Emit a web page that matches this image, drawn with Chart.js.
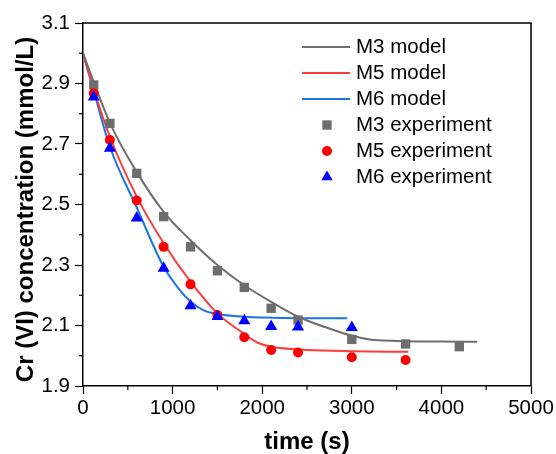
<!DOCTYPE html>
<html>
<head>
<meta charset="utf-8">
<script src="https://cdn.jsdelivr.net/npm/chart.js@4.4.1/dist/chart.umd.min.js"></script>
<style>
  html, body { margin: 0; padding: 0; background: #fff; }
  #wrap { width: 556px; height: 454px; }
</style>
</head>
<body>
<div id="wrap"><canvas id="grafico" width="556" height="454"></canvas></div>
<script>
// valores (tempo em s, concentração em mmol/L)
const tempoExp = [120, 300, 600, 900, 1200, 1500, 1800, 2100, 2400, 3000, 3600, 4200];
const m3Exp = [2.895, 2.768, 2.603, 2.460, 2.360, 2.281, 2.226, 2.157, 2.118, 2.054, 2.039, 2.030];
const m5Exp = [2.868, 2.713, 2.513, 2.360, 2.236, 2.135, 2.061, 2.019, 2.011, 1.995, 1.986];
const m6Exp = [2.855, 2.686, 2.455, 2.289, 2.165, 2.130, 2.116, 2.097, 2.095, 2.093];

const m3ModelT = [0, 300, 600, 900, 1200, 1500, 1800, 2100, 2400, 2700, 3000, 3200, 3500, 4000, 4400];
const m3ModelC = [3.000, 2.770, 2.607, 2.476, 2.382, 2.300, 2.233, 2.178, 2.129, 2.095, 2.066, 2.054, 2.049, 2.047, 2.046];

const m5ModelT = [0, 120, 300, 600, 900, 1200, 1500, 1800, 1950, 2100, 2400, 2700, 3000, 3630];
const m5ModelC = [3.000, 2.880, 2.724, 2.526, 2.372, 2.245, 2.140, 2.072, 2.043, 2.030, 2.021, 2.017, 2.015, 2.013];

const m6ModelT = [0, 120, 300, 600, 900, 1080, 1200, 1340, 1500, 1800, 2100, 2650, 2950];
const m6ModelC = [3.000, 2.875, 2.691, 2.490, 2.294, 2.217, 2.179, 2.151, 2.138, 2.129, 2.126, 2.124, 2.124];

const xMarcas = [0, 1000, 2000, 3000, 4000, 5000];
const yMarcas = [1.9, 2.1, 2.3, 2.5, 2.7, 2.9, 3.1];

const fonte = 'Arial, "Liberation Sans", sans-serif';

function pontos(xs, ys) {
    return ys.map((y, i) => ({ x: xs[i], y: y }));
}

function ehMaiorX(v) { return xMarcas.some(m => Math.abs(m - v) < 1e-6); }
function ehMaiorY(v) { return yMarcas.some(m => Math.abs(m - v) < 1e-6); }

// legenda desenhada à mão dentro da área do gráfico
const legendaPlugin = {
    id: 'legendaInterna',
    afterDraw(chart) {
        const ctx = chart.ctx;
        const itens = [
            { texto: 'M3 model', ds: 0 },
            { texto: 'M5 model', ds: 1 },
            { texto: 'M6 model', ds: 2 },
            { texto: 'M3 experiment', ds: 3 },
            { texto: 'M5 experiment', ds: 4 },
            { texto: 'M6 experiment', ds: 5 }
        ];
        ctx.save();
        ctx.font = '20.5px ' + fonte;
        ctx.textBaseline = 'middle';
        ctx.fillStyle = '#000';
        itens.forEach((item, i) => {
            const y = 47 + i * 26;
            const ds = chart.data.datasets[item.ds];
            if (item.ds < 3) {
                ctx.strokeStyle = ds.borderColor;
                ctx.lineWidth = 2;
                ctx.beginPath();
                ctx.moveTo(302, y);
                ctx.lineTo(350, y);
                ctx.stroke();
            } else {
                ctx.fillStyle = ds.backgroundColor;
                ctx.strokeStyle = ds.borderColor;
                Chart.helpers.drawPoint(ctx, {
                    pointStyle: ds.pointStyle,
                    radius: ds.pointStyle === 'circle' ? 5 : 6.6,
                    borderWidth: 0
                }, 327, y);
                ctx.fillStyle = '#000';
            }
            ctx.fillText(item.texto, 356, y);
        });
        ctx.restore();
    }
};

// moldura, marcas menores dos eixos e título do eixo y
const molduraPlugin = {
    id: 'moldura',
    afterDraw(chart) {
        const ctx = chart.ctx;
        const a = chart.chartArea;
        const xs = chart.scales.x;
        const ys = chart.scales.y;
        ctx.save();
        ctx.strokeStyle = '#000';
        ctx.lineWidth = 1.5;
        ctx.beginPath();
        ctx.moveTo(a.left, a.top);
        ctx.lineTo(a.right, a.top);
        ctx.lineTo(a.right, a.bottom);
        ctx.stroke();
        ctx.lineWidth = 1.2;
        xs.ticks.forEach(t => {
            if (!ehMaiorX(t.value)) {
                const px = xs.getPixelForValue(t.value);
                ctx.beginPath();
                ctx.moveTo(px, a.bottom);
                ctx.lineTo(px, a.bottom + 4);
                ctx.stroke();
            }
        });
        ys.ticks.forEach(t => {
            if (!ehMaiorY(t.value)) {
                const py = ys.getPixelForValue(t.value);
                ctx.beginPath();
                ctx.moveTo(a.left - 4, py);
                ctx.lineTo(a.left, py);
                ctx.stroke();
            }
        });
        // título do eixo y (um pouco abaixo do centro, como no original)
        ctx.translate(26.7, (a.top + a.bottom) / 2 + 5);
        ctx.rotate(-Math.PI / 2);
        ctx.font = 'bold 24px ' + fonte;
        ctx.fillStyle = '#000';
        ctx.textAlign = 'center';
        ctx.textBaseline = 'middle';
        ctx.fillText('Cr (VI) concentration (mmol/L)', 0, 0);
        ctx.restore();
    }
};

function criarGrafico() {
    const ctx = document.getElementById('grafico').getContext('2d');
    new Chart(ctx, {
        type: 'line',
        data: {
            datasets: [
                { label: 'M3 model', data: pontos(m3ModelT, m3ModelC), borderColor: '#6e6e6e', borderWidth: 2, pointRadius: 0, cubicInterpolationMode: 'monotone', order: 10 },
                { label: 'M5 model', data: pontos(m5ModelT, m5ModelC), borderColor: '#ff3b3b', borderWidth: 2, pointRadius: 0, cubicInterpolationMode: 'monotone', order: 10 },
                { label: 'M6 model', data: pontos(m6ModelT, m6ModelC), borderColor: '#1b75e2', borderWidth: 2, pointRadius: 0, cubicInterpolationMode: 'monotone', order: 10 },
                { label: 'M3 experiment', data: pontos(tempoExp, m3Exp), showLine: false, pointStyle: 'rect', pointRadius: 6.6, pointBorderWidth: 0, backgroundColor: '#6d6d6d', borderColor: '#6d6d6d', order: 3 },
                { label: 'M5 experiment', data: pontos(tempoExp, m5Exp), showLine: false, pointStyle: 'circle', pointRadius: 5, pointBorderWidth: 0, backgroundColor: '#ff0000', borderColor: '#ff0000', order: 2 },
                { label: 'M6 experiment', data: pontos(tempoExp, m6Exp), showLine: false, pointStyle: 'triangle', pointRadius: 7, pointBorderWidth: 0, backgroundColor: '#0000ff', borderColor: '#0000ff', order: 1 }
            ]
        },
        options: {
            responsive: false,
            animation: false,
            events: [],
            layout: { padding: { top: 23, right: 25, left: 0, bottom: 0 } },
            plugins: {
                legend: { display: false },
                tooltip: { enabled: false }
            },
            scales: {
                x: {
                    type: 'linear',
                    min: 0,
                    max: 5000,
                    afterFit: s => { s.height = 68; },
                    border: { color: '#000', width: 1.5 },
                    grid: {
                        drawOnChartArea: false,
                        tickLength: 8,
                        tickWidth: 1.2,
                        tickColor: c => (c.tick && ehMaiorX(c.tick.value)) ? '#000' : 'rgba(0,0,0,0)'
                    },
                    ticks: {
                        stepSize: 500,
                        autoSkip: false,
                        maxRotation: 0,
                        padding: 2,
                        color: '#000',
                        font: { family: fonte, size: 20.5 },
                        callback: v => ehMaiorX(v) ? String(v) : ''
                    },
                    title: {
                        display: true,
                        text: 'time (s)',
                        color: '#000',
                        font: { family: fonte, size: 24, weight: 'bold', lineHeight: 1 },
                        padding: { top: 0, bottom: 0 }
                    }
                },
                y: {
                    type: 'linear',
                    min: 1.9,
                    max: 3.1,
                    afterFit: s => { s.width = 83; },
                    border: { color: '#000', width: 1.5 },
                    grid: {
                        drawOnChartArea: false,
                        tickLength: 8,
                        tickWidth: 1.2,
                        tickColor: c => (c.tick && ehMaiorY(c.tick.value)) ? '#000' : 'rgba(0,0,0,0)'
                    },
                    ticks: {
                        stepSize: 0.1,
                        autoSkip: false,
                        padding: 5,
                        color: '#000',
                        font: { family: fonte, size: 20.5 },
                        callback: v => ehMaiorY(v) ? v.toFixed(1) : ''
                    },
                    title: { display: false }
                }
            }
        },
        plugins: [molduraPlugin, legendaPlugin]
    });
}

window.onload = criarGrafico;
</script>
</body>
</html>
